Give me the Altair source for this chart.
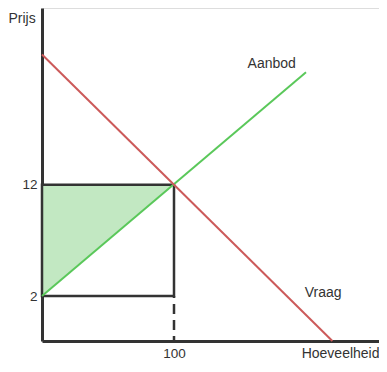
import altair as alt
import pandas as pd

# data (schematic supply/demand)
supply_q = [0, 200]
supply_p = [2, 22.1]
demand_q = [0, 220]
demand_p = [23.7, -2.04]
eq_q = 100
eq_p = 12
min_p = 2
tri_q = [0, 100]
tri_p = [2, 12]
tri_p2 = [12, 12]
label_text = ["Aanbod", "Vraag"]
label_q = [174, 213]
label_p = [22.85, 2.3]
x_ticks = [100]
y_ticks = [2, 12]

XDOM = [0, 255.3]
YDOM = [-2.04, 27.87]

supply = pd.DataFrame({"q": supply_q, "p": supply_p})
demand = pd.DataFrame({"q": demand_q, "p": demand_p})
tri = pd.DataFrame({"q": tri_q, "p": tri_p, "p2": tri_p2})
rect = pd.DataFrame({"q": [0], "q2": [eq_q], "p": [min_p], "p2": [eq_p]})
dash = pd.DataFrame({"q": [eq_q], "p": [min_p], "p2": [YDOM[0]]})
labels = pd.DataFrame({"t": label_text, "q": label_q, "p": label_p})

FONT = "Liberation Sans"
DARK = "#333333"

xs = alt.Scale(domain=XDOM, nice=False, zero=False)
ys = alt.Scale(domain=YDOM, nice=False, zero=False)

x_axis = alt.Axis(
    values=x_ticks, ticks=False, grid=False, domainColor=DARK, domainWidth=3,
    labelFont=FONT, labelFontSize=13.5, labelColor=DARK, labelPadding=5,
    title="Hoeveelheid", titleFont=FONT, titleFontSize=14, titleFontWeight="normal",
    titleColor=DARK, titleX=337, titleY=12, titleAlign="right", titleBaseline="middle",
)
y_axis = alt.Axis(
    values=y_ticks, ticks=False, grid=False, domainColor=DARK, domainWidth=3,
    labelFont=FONT, labelFontSize=13.5, labelColor=DARK, labelPadding=5,
    title="Prijs", titleFont=FONT, titleFontSize=14, titleFontWeight="normal",
    titleColor=DARK, titleAngle=0, titleX=-34, titleY=10, titleAlign="left",
    titleBaseline="middle",
)

area = alt.Chart(tri).mark_area(color="#c2e8c2", opacity=1).encode(
    x=alt.X("q:Q", scale=xs, axis=x_axis),
    y=alt.Y("p:Q", scale=ys, axis=y_axis),
    y2="p2:Q",
)

box = alt.Chart(rect).mark_rect(filled=False, stroke=DARK, strokeWidth=2.5).encode(
    x=alt.X("q:Q", scale=xs), x2="q2:Q",
    y=alt.Y("p:Q", scale=ys), y2="p2:Q",
)

sup = alt.Chart(supply).mark_line(color="#5ac85a", strokeWidth=2).encode(
    x=alt.X("q:Q", scale=xs), y=alt.Y("p:Q", scale=ys)
)
dem = alt.Chart(demand).mark_line(color="#cc5a5a", strokeWidth=2).encode(
    x=alt.X("q:Q", scale=xs), y=alt.Y("p:Q", scale=ys)
)

dashed = alt.Chart(dash).mark_rule(color=DARK, strokeWidth=2.5, strokeDash=[10, 6], strokeDashOffset=-8).encode(
    x=alt.X("q:Q", scale=xs), y=alt.Y("p:Q", scale=ys), y2="p2:Q"
)

txt = alt.Chart(labels).mark_text(font=FONT, fontSize=14, color=DARK).encode(
    x=alt.X("q:Q", scale=xs), y=alt.Y("p:Q", scale=ys), text="t:N"
)

chart = alt.layer(area, box, sup, dem, dashed, txt).properties(
    width=337, height=333,
    autosize=alt.AutoSizeParams(type="none"),
    padding={"left": 34, "top": 0, "right": 0, "bottom": 18},
).configure_view(stroke=None).configure(background="white")

chart.save("out.html", embed_options={"renderer": "svg", "actions": False})
